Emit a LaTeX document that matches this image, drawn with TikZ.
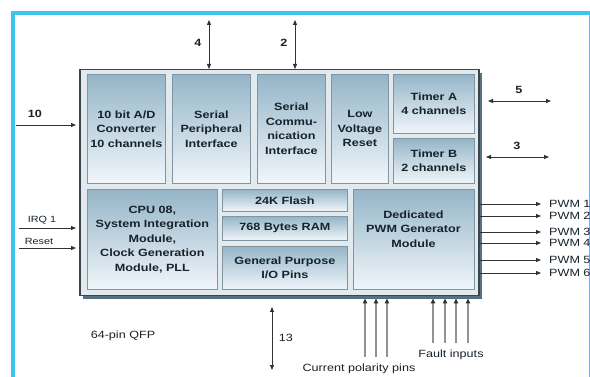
\documentclass[tikz,border=0pt]{standalone}
\usepackage{fontspec}
\newfontfamily\lab{Liberation Sans}[FakeStretch=1.2]
\usetikzlibrary{arrows.meta}
\definecolor{framecyan}{HTML}{3CC6EE}
\definecolor{chipedge}{HTML}{3A464E}
\definecolor{chipshadow}{HTML}{567282}
\definecolor{chipfill}{HTML}{E2EAEE}
\definecolor{blkedge}{HTML}{7F95A3}
\definecolor{blktop}{HTML}{95B5C8}
\definecolor{blkbot}{HTML}{F0F6FA}
\definecolor{inktext}{HTML}{17222A}
\definecolor{wire}{HTML}{2E3336}
\definecolor{pinwire}{HTML}{8E9396}
\tikzset{
  blk/.style={draw=blkedge, line width=0.8pt, top color=blktop, bottom color=blkbot,
    anchor=north west, inner sep=0pt, align=center,
    font=\lab\bfseries\fontsize{10.5}{14.5}\selectfont, text=inktext},
  blktext/.style={inner sep=0pt, align=center,
    font=\lab\bfseries\fontsize{10.5}{14.5}\selectfont, text=inktext},
  lbl/.style={inner sep=0pt, font=\lab\fontsize{10.5}{12}\selectfont, text=inktext},
  lblb/.style={inner sep=0pt, font=\lab\bfseries\fontsize{10.5}{12}\selectfont, text=inktext},
  lbls/.style={inner sep=0pt, font=\lab\fontsize{9}{10}\selectfont, text=inktext},
  arr/.style={draw=wire, line width=0.8pt, -{Triangle[length=5pt,width=4pt]}},
  dbl/.style={draw=wire, line width=0.8pt, {Triangle[length=5pt,width=4pt]}-{Triangle[length=5pt,width=4pt]}},
  pinarr/.style={draw=pinwire, line width=1.3pt, -{Triangle[length=5pt,width=4.5pt,color=wire,fill=wire]}},
}
\begin{document}
\begin{tikzpicture}[x=1pt,y=-1pt]
\useasboundingbox (0,0) rectangle (590,377);
\clip (0,0) rectangle (590,377);
\fill[white] (0,0) rectangle (590,377);
% frame
\draw[framecyan, line width=4pt] (13,13) rectangle (591,381);
% chip
\fill[chipshadow] (83,73) rectangle (482,299);
\node[draw=chipedge, line width=1.5pt, fill=chipfill, anchor=north west, inner sep=0pt,
  minimum width=399pt, minimum height=226pt] (chip) at (79,69) {};
% blocks
\node[blk, minimum width=78pt, minimum height=109pt] (ad) at (87,74) {10 bit A/D\\Converter\\10 channels};
\node[blk, minimum width=78pt, minimum height=109pt] (spi) at (172,74) {Serial\\Peripheral\\Interface};
\node[blk, minimum width=68pt, minimum height=109pt] (sci) at (257,74) {Serial\\Commu-\\nication\\Interface};
\node[blk, minimum width=57pt, minimum height=109pt] (lvr) at (331,74) {Low\\Voltage\\Reset};
\node[blk, minimum width=81pt, minimum height=59pt] (ta) at (393,74) {Timer A\\4 channels};
\node[blk, minimum width=81pt, minimum height=45pt] (tb) at (393,138) {Timer B\\2 channels};
\node[blk, minimum width=130pt, minimum height=100pt] (cpu) at (87,189) {CPU 08,\\System Integration\\Module,\\Clock Generation\\Module, PLL};
\node[blk, minimum width=125pt, minimum height=22pt] (flash) at (222,189) {24K Flash};
\node[blk, minimum width=125pt, minimum height=24pt] (ram) at (222,216) {768 Bytes RAM};
\node[blk, minimum width=125pt, minimum height=43pt] (gpio) at (222,246) {General Purpose\\I/O Pins};
\node[blk, minimum width=121pt, minimum height=100pt] (pwm) at (353,189) {};
\node[blktext] (pwmtxt) at (413.5,229) {Dedicated\\PWM Generator\\Module};
% top arrows
\coordinate (t4) at (209,20);
\draw[dbl] (t4) -- (t4 |- chip.north);
\node[lblb] (l4) at (198,43) {4};
\coordinate (t2) at (295,20);
\draw[dbl] (t2) -- (t2 |- chip.north);
\node[lblb] (l2) at (284,43) {2};
% left arrows
\coordinate (i10) at (16,125);
\draw[arr, shorten >=3pt] (i10) -- (i10 -| chip.west);
\node[lblb] (l10) at (35,114) {10};
\coordinate (irq) at (19,228);
\draw[arr, shorten >=3pt] (irq) -- (irq -| chip.west);
\node[lbls] (lirq) at (42,220) {IRQ 1};
\coordinate (rst) at (19,248);
\draw[arr, shorten >=3pt] (rst) -- (rst -| chip.west);
\node[lbls] (lrst) at (39,241) {Reset};
% right timer arrows
\coordinate (a5l) at (488,101); \coordinate (a5r) at (551,101);
\draw[dbl] (a5l) -- (a5r);
\node[lblb] (l5) at (519,90) {5};
\coordinate (a3l) at (486,157); \coordinate (a3r) at (549,157);
\draw[dbl] (a3l) -- (a3r);
\node[lblb] (l3) at (517,146) {3};
% PWM outputs
\foreach \y/\n in {204/1,216/2,232/3,243/4,260/5,273/6}{
  \coordinate (pe\n) at (541,\y);
  \draw[arr] (pe\n -| chip.east) -- (pe\n);
  \node[lbl, anchor=west] (pl\n) at (549,\y) {PWM \n};
}
% bottom
\coordinate (b13t) at (272,307); \coordinate (b13b) at (272,370);
\draw[dbl] (b13t) -- (b13b);
\node[lbl] (l13) at (286,338) {13};
\node[lbl] (qfp) at (123,336) {64-pin QFP};
\foreach \x/\n in {365/1,376/2,387/3}{
  \coordinate (cp\n) at (\x,357);
  \draw[pinarr, shorten >=2pt] (cp\n) -- (cp\n |- chip.south);
}
\node[lbl] (lcp) at (359,369) {Current polarity pins};
\foreach \x/\n in {433/1,445/2,456/3,468/4}{
  \coordinate (fi\n) at (\x,343);
  \draw[pinarr, shorten >=2pt] (fi\n) -- (fi\n |- chip.south);
}
\node[lbl] (lfi) at (451,355) {Fault inputs};
\end{tikzpicture}
\end{document}
